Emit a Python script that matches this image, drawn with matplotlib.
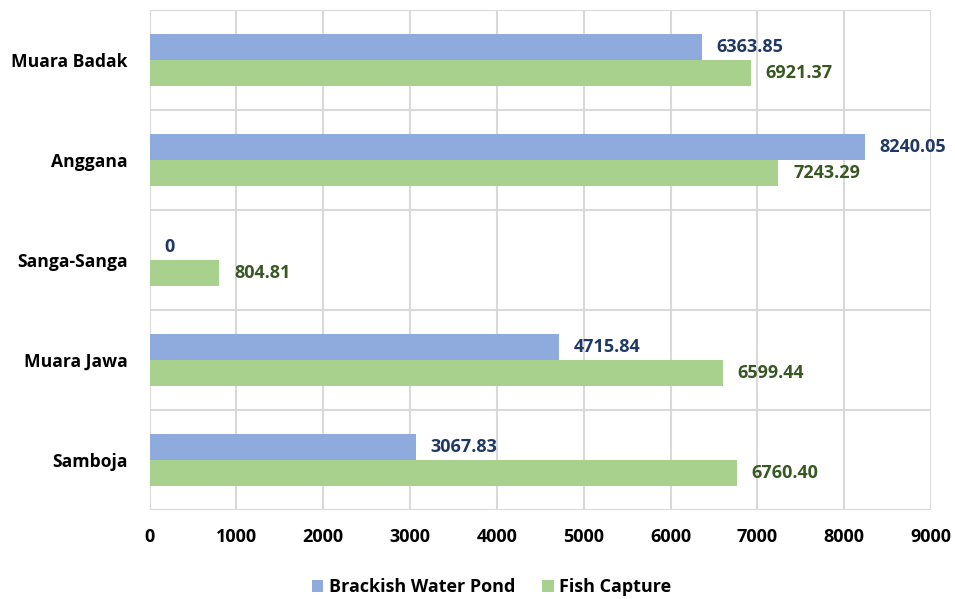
import matplotlib
matplotlib.use("Agg")
import matplotlib.pyplot as plt
import numpy as np

categories = ["Muara Badak", "Anggana", "Sanga-Sanga", "Muara Jawa", "Samboja"]
brackish = [6363.85, 8240.05, 0, 4715.84, 3067.83]
fish = [6921.37, 7243.29, 804.81, 6599.44, 6760.40]
brackish_labels = ["6363.85", "8240.05", "0", "4715.84", "3067.83"]
fish_labels = ["6921.37", "7243.29", "804.81", "6599.44", "6760.40"]
xticks = [0, 1000, 2000, 3000, 4000, 5000, 6000, 7000, 8000, 9000]

plt.rcParams['font.family'] = ['Open Sans', 'DejaVu Sans']

blue = "#8faadc"
green = "#a9d18e"
blue_txt = "#1f3864"
green_txt = "#385723"
grid_c = "#d9d9d9"
fs = 13

fig = plt.figure(figsize=(9.55, 5.99), dpi=100)
ax = fig.add_axes([149.5 / 955, 1 - 510 / 599, (931 - 149.5) / 955, 500 / 599])

n = len(categories)
y = np.arange(n)[::-1].astype(float)
h = 0.26
ax.barh(y + h / 2, brackish, height=h, color=blue, label="Brackish Water Pond")
ax.barh(y - h / 2, fish, height=h, color=green, label="Fish Capture")

off = 170
for yi, v, s in zip(y, brackish, brackish_labels):
    ax.text(v + off, yi + h / 2, s, color=blue_txt, fontsize=fs, fontweight='bold',
            va='center', ha='left')
for yi, v, s in zip(y, fish, fish_labels):
    ax.text(v + off, yi - h / 2, s, color=green_txt, fontsize=fs, fontweight='bold',
            va='center', ha='left')

ax.set_xlim(0, 9000)
ax.set_ylim(-0.5, n - 0.5)
ax.set_xticks(xticks)
ax.set_xticklabels([str(t) for t in xticks], fontsize=fs, fontweight='bold')
ax.set_yticks(y)
ax.set_yticklabels(categories, fontsize=12.6, fontweight='bold')
ax.set_yticks(np.arange(n + 1) - 0.5, minor=True)
ax.tick_params(axis='both', which='both', length=0)
ax.tick_params(axis='x', pad=13)
ax.tick_params(axis='y', pad=15.5)

ax.grid(True, axis='x', color=grid_c, linewidth=1.5)
ax.grid(True, axis='y', which='minor', color=grid_c, linewidth=1.5)
ax.set_axisbelow(True)
for sp in ax.spines.values():
    sp.set_visible(False)

leg = fig.legend(loc='center', bbox_to_anchor=(491.5 / 955, 1 - 587 / 599), ncol=2, frameon=False,
                 prop={'size': fs, 'weight': 'bold'}, handlelength=0.65, handleheight=0.65,
                 handletextpad=0.3, columnspacing=1.5)

fig.savefig("out.png", dpi=100)
